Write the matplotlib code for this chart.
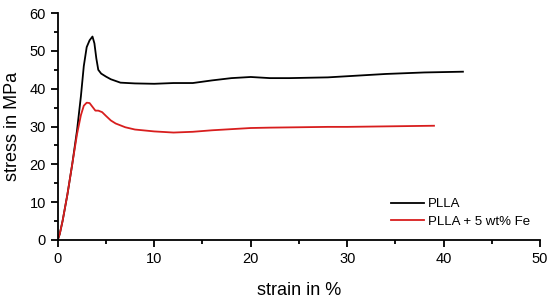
import matplotlib.pyplot as plt

plt.rcParams['font.family'] = ['Liberation Sans', 'DejaVu Sans']

# PLLA
x_plla = [0, 0.2, 0.5, 1.0, 1.5, 2.0, 2.4, 2.7, 3.0, 3.3, 3.6, 3.8, 4.0, 4.2, 4.5, 5.0, 5.5,
          6.5, 8, 10, 12, 14, 16, 18, 20, 22, 24, 26, 28, 30, 32, 34, 36, 38, 40, 42]
y_plla = [0, 1.5, 5, 12, 20, 29, 38, 46, 51, 52.8, 53.8, 52, 48, 45, 44, 43.2, 42.5,
          41.6, 41.4, 41.3, 41.5, 41.5, 42.2, 42.8, 43.1, 42.8, 42.8, 42.9, 43.0, 43.3, 43.6,
          43.9, 44.1, 44.3, 44.4, 44.5]

# PLLA + 5 wt% Fe
x_fe = [0, 0.2, 0.5, 1.0, 1.5, 2.0, 2.4, 2.7, 3.0, 3.3, 3.6, 3.9, 4.2, 4.6, 5.0, 5.5,
        6.0, 7.0, 8, 10, 12, 14, 16, 18, 20, 22, 25, 28, 30, 33, 36, 39]
y_fe = [0, 1.5, 5, 12, 20, 28, 33, 35.5, 36.3, 36.2, 35.2, 34.2, 34.2, 33.8, 32.8, 31.6,
        30.8, 29.8, 29.2, 28.7, 28.4, 28.6, 29.0, 29.3, 29.6, 29.7, 29.8, 29.9, 29.9, 30.0,
        30.1, 30.2]

fig = plt.figure(figsize=(5.5, 2.98), dpi=100)
ax = fig.add_axes([0.105, 0.195, 0.877, 0.761])

ax.plot(x_plla, y_plla, color='black', lw=1.3, label='PLLA')
ax.plot(x_fe, y_fe, color='#d81e1e', lw=1.3, label='PLLA + 5 wt% Fe')

ax.set_xlim(0, 50)
ax.set_ylim(0, 60)
ax.set_xticks([0, 10, 20, 30, 40, 50])
ax.set_xticks([5, 15, 25, 35, 45], minor=True)
ax.set_yticks([0, 10, 20, 30, 40, 50, 60])
ax.set_yticks([5, 15, 25, 35, 45, 55], minor=True)
ax.tick_params(which='major', direction='out', length=5, width=1.3, labelsize=10.5)
ax.tick_params(which='minor', direction='out', length=3, width=1.3)
ax.spines['top'].set_visible(False)
ax.spines['right'].set_visible(False)
ax.spines['left'].set_linewidth(1.3)
ax.spines['bottom'].set_linewidth(1.3)

ax.set_xlabel('strain in %', fontsize=13, labelpad=12)
ax.set_ylabel('stress in MPa', fontsize=13, labelpad=6)

ax.legend(loc='lower right', bbox_to_anchor=(0.995, 0.018), frameon=False, fontsize=9.5,
          handlelength=2.5, handletextpad=0.25, labelspacing=0.4, borderaxespad=0.2)

plt.savefig('out.png', dpi=100)
